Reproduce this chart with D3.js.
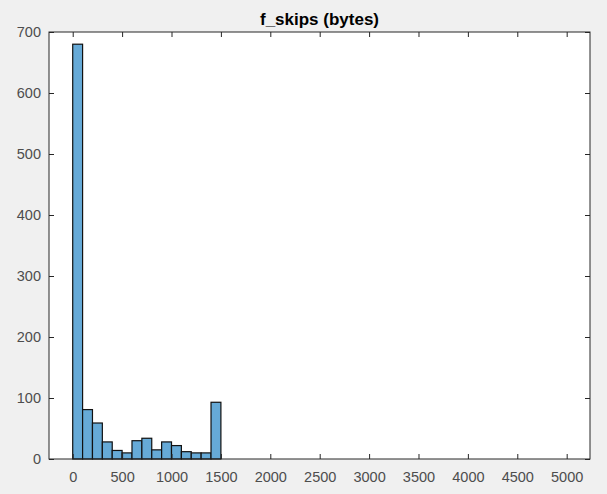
<!DOCTYPE html>
<html>
<head>
<meta charset="utf-8">
<script src="https://cdn.jsdelivr.net/npm/d3@7"></script>
<style>
  body { margin: 0; background: #f0f0f0; }
  svg { display: block; font-family: "Liberation Sans", Arial, sans-serif; }
  .axis text { fill: #4d4d4d; font-size: 14.5px; }
  .axis path, .axis line { stroke: #262626; }
</style>
</head>
<body>
<svg id="chart" width="607" height="494"></svg>
<script>
// histogram of f_skips, bins 100 bytes wide
var binEdges = [0, 100, 200, 300, 400, 500, 600, 700, 800, 900, 1000, 1100, 1200, 1300, 1400, 1500];
var counts   = [680, 81, 59, 28, 14, 10, 30, 34, 15, 28, 22, 12, 10, 10, 93];
var xTicks   = [0, 500, 1000, 1500, 2000, 2500, 3000, 3500, 4000, 4500, 5000];
var yTicks   = [0, 100, 200, 300, 400, 500, 600, 700];

const svg = d3.select("#chart"),
      margin = {top: 32, right: 17, bottom: 35, left: 49},
      width  = +svg.attr("width")  - margin.left - margin.right,
      height = +svg.attr("height") - margin.top  - margin.bottom;

const x = d3.scaleLinear().domain([-240, 5236]).range([0, width]),
      y = d3.scaleLinear().domain([0, 700]).range([height, 0]);

const g = svg.append("g").attr("transform", `translate(${margin.left},${margin.top})`);

g.append("rect")
  .attr("width", width).attr("height", height)
  .attr("fill", "#fff");

var bins = counts.map((c, i) => ({x0: binEdges[i], x1: binEdges[i + 1], n: c}));

g.selectAll(".bar")
  .data(bins)
  .enter().append("rect")
    .attr("class", "bar")
    .attr("x", d => x(d.x0))
    .attr("y", d => y(d.n))
    .attr("width", d => x(d.x1) - x(d.x0))
    .attr("height", d => y(0) - y(d.n))
    .attr("fill", "#66aad7")
    .attr("stroke", "#111")
    .attr("stroke-width", 1.2);

// matlab style axes: ticks inside, box on
g.append("g")
  .attr("class", "axis")
  .attr("transform", `translate(0,${height})`)
  .call(d3.axisBottom(x).tickValues(xTicks).tickSize(-5).tickPadding(13).tickFormat(d3.format("d")))
  .call(a => a.select(".domain").remove());

g.append("g")
  .attr("class", "axis")
  .call(d3.axisTop(x).tickValues(xTicks).tickSize(-5).tickFormat(""))
  .call(a => a.select(".domain").remove());

g.append("g")
  .attr("class", "axis")
  .call(d3.axisLeft(y).tickValues(yTicks).tickSize(-5).tickPadding(8))
  .call(a => a.select(".domain").remove());

g.append("g")
  .attr("class", "axis")
  .attr("transform", `translate(${width},0)`)
  .call(d3.axisRight(y).tickValues(yTicks).tickSize(-5).tickFormat(""))
  .call(a => a.select(".domain").remove());

g.append("rect")
  .attr("width", width).attr("height", height)
  .attr("fill", "none")
  .attr("stroke", "#262626")
  .attr("stroke-width", 1);

svg.append("text")
  .attr("x", margin.left + width / 2)
  .attr("y", 25)
  .attr("text-anchor", "middle")
  .style("font-size", "17px")
  .style("font-weight", "bold")
  .attr("fill", "#000")
  .text("f_skips (bytes)");
</script>
</body>
</html>
